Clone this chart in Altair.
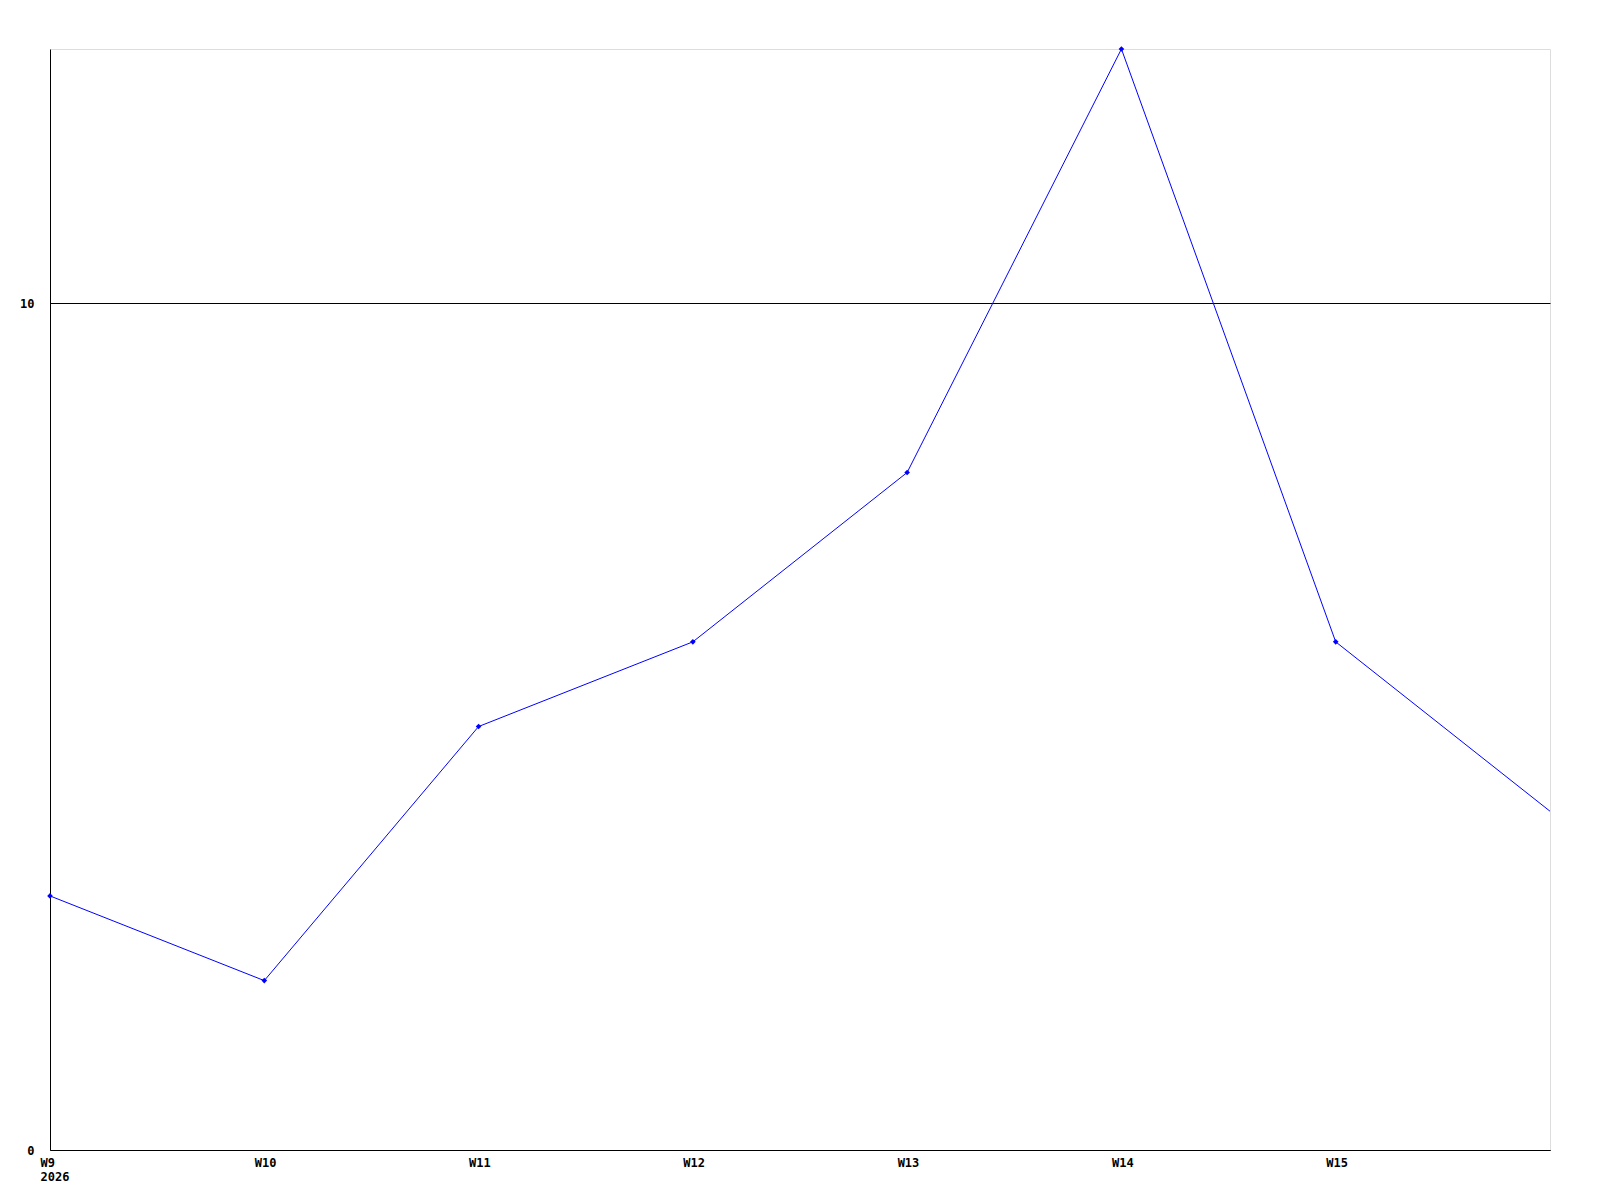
import altair as alt
import pandas as pd

weeks = [9, 10, 11, 12, 13, 14, 15, 16]
values = [3, 2, 5, 6, 8, 13, 6, 4]
marker_weeks = [9, 10, 11, 12, 13, 14, 15]
x_ticks = [9, 10, 11, 12, 13, 14, 15]
y_ticks = [0, 10]
year_label = "2026"

df = pd.DataFrame({"week": weeks, "value": values})
df["marker"] = df["week"].isin(marker_weeks)

FONT = "DejaVu Sans Mono"

x_enc = alt.X(
    "week:Q",
    scale=alt.Scale(domain=[9, 16], nice=False, zero=False),
    axis=alt.Axis(
        values=x_ticks,
        title=None,
        grid=False,
        ticks=False,
        domainColor="black",
        domainWidth=1,
        labelExpr=f"datum.value == 9 ? ['W9', '{year_label}'] : 'W' + datum.value",
        labelAlign="left",
        labelOffset=-10,
        labelBaseline="top",
        labelPadding=7,
        labelFont=FONT,
        labelFontWeight="bold",
        labelFontSize=12,
        labelColor="black",
        labelLineHeight=14,
        labelOverlap=False,
        labelFlush=False,
    ),
)
y_enc = alt.Y(
    "value:Q",
    scale=alt.Scale(domain=[0, 13], nice=False),
    axis=alt.Axis(
        values=y_ticks,
        format="d",
        title=None,
        grid=True,
        gridColor="black",
        gridOpacity=1,
        gridWidth=1,
        ticks=False,
        domainColor="black",
        domainWidth=1,
        labelPadding=16,
        labelFont=FONT,
        labelFontWeight="bold",
        labelFontSize=12,
        labelColor="black",
        labelBaseline="middle",
        labelFlush=False,
    ),
)

base = alt.Chart(df).encode(x=x_enc, y=y_enc)
line = base.mark_line(color="#0000ff", strokeWidth=1)
pts = base.transform_filter("datum.marker").mark_point(
    shape="diamond", filled=True, color="#0000ff", size=32, opacity=1
)

chart = (
    alt.layer(line, pts)
    .properties(
        width=1500,
        height=1101,
        autosize=alt.AutoSizeParams(type="none"),
        padding={"left": 42, "top": 41, "right": 30, "bottom": 40},
    )
    .configure_view(strokeWidth=0, stroke="transparent")
    .configure(background="white")
)

chart.save("out.html", embed_options={"renderer": "svg", "actions": False})
